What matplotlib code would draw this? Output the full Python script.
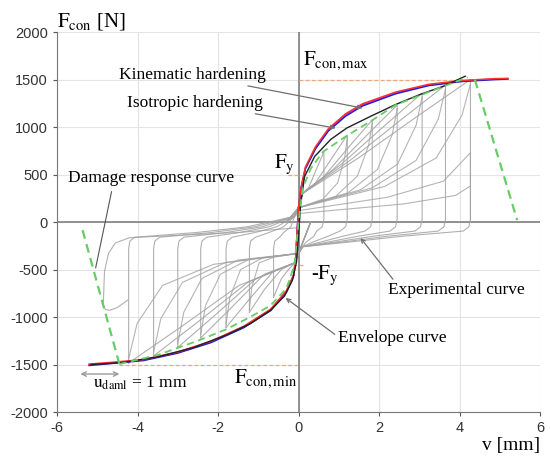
import numpy as np
import matplotlib
matplotlib.use("Agg")
import matplotlib.pyplot as plt

plt.rcParams['mathtext.fontset'] = 'stix'
plt.rcParams['font.family'] = ['Liberation Serif', 'DejaVu Serif']
plt.rcParams['axes.unicode_minus'] = False

# --- data ------------------------------------------------------------------
# grey experimental loops: negative peak -> positive peak -> back to negative peak
loops = [
    ([-0.62, -0.62, -0.59, -0.47, -0.37, -0.19, -0.1, 0, 0.1, 0.25, 0.44, 0.63,
      0.63, 0.59, 0.45, 0.38, 0.19, 0.1, 0, -0.1, -0.25, -0.43, -0.62],
     [-790, -280, -200, -160, -110, -50, 60, 160, 300, 360, 553, 737,
      30, -50, -95, -150, -210, -260, -330, -430, -500, -600, -790]),
    ([-1.22, -1.22, -1.19, -1.07, -0.73, -0.37, -0.1, 0, 0.1, 0.42, 0.85, 1.21,
      1.21, 1.17, 1.03, 0.73, 0.36, 0.1, 0, -0.1, -0.43, -0.85, -1.22],
     [-950, -280, -200, -160, -110, -50, 60, 160, 300, 412, 687, 916,
      30, -50, -95, -150, -210, -260, -330, -430, -500, -712, -950]),
    ([-1.8, -1.8, -1.77, -1.65, -1.08, -0.54, -0.1, 0, 0.1, 0.64, 1.28, 1.83,
      1.83, 1.79, 1.65, 1.1, 0.55, 0.1, 0, -0.1, -0.63, -1.26, -1.8],
     [-1110, -280, -200, -160, -110, -50, 60, 160, 300, 483, 806, 1074,
      30, -50, -95, -150, -210, -260, -330, -430, -520, -832, -1110]),
    ([-2.43, -2.43, -2.4, -2.28, -1.46, -0.73, -0.1, 0, 0.1, 0.86, 1.72, 2.45,
      2.45, 2.41, 2.27, 1.47, 0.74, 0.1, 0, -0.1, -0.85, -1.7, -2.43],
     [-1220, -280, -200, -160, -110, -50, 60, 160, 300, 554, 924, 1232,
      30, -50, -95, -150, -210, -260, -330, -430, -549, -915, -1220]),
    ([-3.0, -3.0, -2.97, -2.85, -1.8, -0.9, -0.1, 0, 0.1, 1.07, 2.15, 3.07,
      3.07, 3.03, 2.89, 1.84, 0.92, 0.1, 0, -0.1, -1.05, -2.1, -3.0],
     [-1320, -280, -200, -160, -110, -50, 60, 160, 300, 611, 1019, 1358,
      30, -50, -95, -150, -210, -260, -330, -430, -594, -990, -1320]),
    ([-3.6, -3.6, -3.57, -3.45, -2.16, -1.08, -0.1, 0, 0.1, 1.28, 2.56, 3.65,
      3.65, 3.61, 3.47, 2.19, 1.1, 0.1, 0, -0.1, -1.26, -2.52, -3.6],
     [-1410, -280, -200, -160, -110, -50, 60, 160, 300, 649, 1082, 1442,
      30, -50, -95, -150, -210, -260, -330, -430, -635, -1058, -1410]),
    ([-4.22, -4.22, -4.19, -4.07, -2.53, -1.27, -0.1, 0, 0.1, 1.49, 2.99, 4.27,
      4.27, 4.23, 4.09, 2.56, 1.28, 0.1, 0, -0.1, -1.48, -2.95, -4.22],
     [-1484, -280, -200, -160, -110, -50, 60, 160, 300, 675, 1125, 1500,
      30, -50, -95, -150, -210, -260, -330, -430, -668, -1113, -1484]),
]

# repeated (second) cycles at the same amplitudes
rep_right = [
    ([-0.3, 0, 0.6, 0.97, 1.15, 1.21], [0, 150, 240, 412, 687, 889]),
    ([-0.3, 0, 0.92, 1.46, 1.74, 1.83], [0, 150, 270, 483, 806, 1042]),
    ([-0.3, 0, 1.23, 1.96, 2.33, 2.45], [0, 150, 308, 554, 924, 1195]),
    ([-0.3, 0, 1.54, 2.46, 2.92, 3.07], [0, 150, 340, 611, 1019, 1317]),
    ([-0.3, 0, 1.83, 2.92, 3.47, 3.65], [0, 150, 360, 649, 1082, 1399]),
    ([-0.3, 0, 2.14, 3.42, 4.06, 4.27], [0, 150, 375, 675, 1125, 1455]),
    ([-0.3, 0, 2.2, 3.6, 4.27, 4.27], [0, 120, 260, 430, 730, 0]),
    ([-0.3, 0, 2.6, 3.9, 4.27], [0, 90, 190, 280, 380]),
]
rep_left = [
    ([0.3, 0, -0.61, -0.98, -1.16, -1.22], [0, -330, -370, -430, -684, -920]),
    ([0.3, 0, -0.9, -1.44, -1.71, -1.8], [0, -330, -380, -500, -800, -1077]),
    ([0.3, 0, -1.22, -1.94, -2.31, -2.43], [0, -330, -390, -549, -878, -1183]),
    ([0.3, 0, -1.5, -2.4, -2.85, -3.0], [0, -330, -400, -594, -950, -1280]),
    ([0.3, 0, -1.8, -2.88, -3.42, -3.6], [0, -330, -423, -635, -1015, -1368]),
    ([0.3, 0, -2.11, -3.38, -4.01, -4.22], [0, -330, -445, -668, -1068, -1440]),
]
damage_loop_x = [0, -1.5, -3.0, -4.2, -4.55, -4.72, -4.82, -4.85, -4.8, -4.7,
                 -4.5, -4.24]
damage_loop_y = [-60, -110, -140, -165, -220, -330, -520, -870, -920, -930,
                 -900, -821]

# model curves (kinematic = red, isotropic = blue, third model = magenta)
model_x = [-5.2, -4.67, -3.85, -3.0, -2.18, -1.36, -0.69, -0.3, -0.12, -0.07,
           0.0, 0.06, 0.17, 0.42, 0.74, 1.17, 1.59, 2.41, 3.23, 4.07, 4.89, 5.2]
kin_y = [-1495, -1478, -1447, -1368, -1255, -1097, -916, -722, -552, -365,
         160, 360, 578, 792, 982, 1140, 1245, 1368, 1450, 1490, 1510, 1512]
iso_y = [-1510, -1490, -1458, -1380, -1270, -1112, -932, -738, -566, -375,
         140, 342, 560, 770, 958, 1115, 1222, 1350, 1436, 1480, 1500, 1505]
mag_y = [-1502, -1484, -1452, -1374, -1262, -1104, -924, -730, -560, -370,
         150, 350, 568, 780, 970, 1128, 1234, 1358, 1442, 1486, 1506, 1510]

# experimental envelope (black)
exp_x = [-5.15, -4.4, -3.5, -2.6, -1.8, -1.2, -0.7, -0.35, -0.15, -0.05, 0,
         0.05, 0.15, 0.4, 0.8, 1.2, 1.8, 2.4, 3.0, 3.6, 4.14]
exp_y = [-1500, -1480, -1420, -1320, -1190, -1070, -930, -780, -610, -420, -150,
         180, 480, 690, 870, 990, 1115, 1235, 1340, 1430, 1535]

# envelope curve (green dashed) and damage response lines
env_x = [-4.45, -3.5, -2.5, -1.8, -1.2, -0.7, -0.3, -0.1, 0, 0.1, 0.3, 0.6,
         1.17, 1.84, 2.41, 3.23, 3.82, 4.2]
env_y = [-1495, -1400, -1250, -1130, -1000, -880, -700, -450, 0, 350, 560, 737,
         900, 1074, 1232, 1368, 1463, 1525]
dam_pos_x, dam_pos_y = [4.38, 5.43], [1500, 20]
dam_neg_x, dam_neg_y = [-4.45, -5.4], [-1495, -30]

F_max, F_min = 1500, -1500
F_y, F_y_neg = 500, -450

# --- figure -------------------------------------------------------------------
fig = plt.figure(figsize=(5.5, 4.58), dpi=100)
ax = fig.add_axes([0.1036, 0.1004, 0.8784, 0.8296])
ax.set_xlim(-6, 6)
ax.set_ylim(-2000, 2000)
ax.set_xticks(np.arange(-6, 7, 2))
ax.set_yticks(np.arange(-2000, 2001, 500))
ax.grid(True, color='#e4e4e4', lw=0.8)
ax.set_axisbelow(True)
for s in ['top', 'right']:
    ax.spines[s].set_visible(False)
for s in ['left', 'bottom']:
    ax.spines[s].set_color('#777777')
ax.tick_params(colors='#555555', labelcolor='#333333', length=3, labelsize=10.5)
for lab in ax.get_xticklabels() + ax.get_yticklabels():
    lab.set_family(['Liberation Sans', 'DejaVu Sans'])

ax.axhline(0, color='#808080', lw=1.2, zorder=1)
ax.axvline(0, color='#808080', lw=1.2, zorder=1)

gray = '#a2a2a2'
for lx, ly in loops:
    ax.plot(lx, ly, color=gray, lw=0.8, alpha=0.85)
for lx, ly in rep_right + rep_left:
    ax.plot(lx, ly, color=gray, lw=0.8, alpha=0.8)
ax.plot(damage_loop_x, damage_loop_y, color=gray, lw=0.8, alpha=0.85)

# reference levels
ax.plot([0, 4.3], [F_max, F_max], ls=(0, (3, 2)), color='#f2a677', lw=0.9)
ax.plot([-4.45, 0], [F_min, F_min], ls=(0, (3, 2)), color='#f2a677', lw=0.9)
ax.plot([-0.25, 0.05], [F_y, F_y], ls=(0, (3, 2)), color='#f2a677', lw=0.9)
ax.plot([-0.15, 0.12], [F_y_neg, F_y_neg], ls=(0, (3, 2)), color='#f2a677', lw=0.9)

ax.plot(model_x, mag_y, color='#e020e0', lw=1.1)
ax.plot(model_x, iso_y, color='#2020d0', lw=1.1)
ax.plot(model_x, kin_y, color='#ff3030', lw=1.1)
ax.plot(exp_x, exp_y, color='#222222', lw=1.0)
ax.plot(env_x, env_y, color='#66cc66', lw=1.3, ls=(0, (4, 2.5)))
ax.plot(dam_pos_x, dam_pos_y, color='#66cc66', lw=1.6, ls=(0, (4, 2.5)))
ax.plot(dam_neg_x, dam_neg_y, color='#66cc66', lw=1.6, ls=(0, (4, 2.5)))

# --- labels -------------------------------------------------------------------
fs = 12.5
arr = dict(arrowstyle='->', color='#707070', lw=0.9, shrinkA=0, shrinkB=0,
           mutation_scale=7)
ax.annotate('Kinematic hardening', xy=(1.59, 1200), xytext=(-0.82, 1547),
            ha='right', va='center', fontsize=fs, arrowprops=arr)
ax.annotate('Isotropic hardening', xy=(0.92, 989), xytext=(-0.89, 1253),
            ha='right', va='center', fontsize=fs, arrowprops=arr)
ax.annotate('Damage response curve', xy=(-5.04, -484), xytext=(-5.73, 463),
            ha='left', va='center', fontsize=fs,
            arrowprops=dict(arrowstyle='-', color='#555555', lw=0.8,
                            relpos=(0.27, 0), shrinkA=2, shrinkB=0))
ax.annotate('Experimental curve', xy=(1.54, -168), xytext=(2.23, -716),
            ha='left', va='center', fontsize=fs,
            arrowprops=dict(arr, relpos=(0.05, 1)))
ax.annotate('Envelope curve', xy=(-0.32, -800), xytext=(0.97, -1221),
            ha='left', va='center', fontsize=fs,
            arrowprops=dict(arr, relpos=(0, 0.6)))
ax.text(0.12, 1700, r'$\mathrm{F_{con,max}}$', fontsize=15, ha='left', va='center')
ax.text(-0.1, 610, r'$\mathrm{F_y}$', fontsize=15, ha='right', va='center')
ax.text(0.3, -560, r'-$\mathrm{F_y}$', fontsize=15, ha='left', va='center')
ax.text(-1.6, -1650, r'$\mathrm{F_{con,min}}$', fontsize=15, ha='left', va='center')
ax.text(-5.1, -1700, r'$\mathrm{u_{daml}}$ = 1 mm', fontsize=fs, ha='left', va='center')
ax.annotate('', xy=(-5.42, -1600), xytext=(-4.45, -1600),
            arrowprops=dict(arrowstyle='<->', color='#999999', lw=1.0,
                            mutation_scale=8, shrinkA=0, shrinkB=0))
ax.text(-6.0, 2110, r'$\mathrm{F_{con}}$ [N]', fontsize=15, ha='left', va='center')
ax.text(6.0, -2350, 'v [mm]', fontsize=14, ha='right', va='center')

fig.savefig('out.png', dpi=100)
